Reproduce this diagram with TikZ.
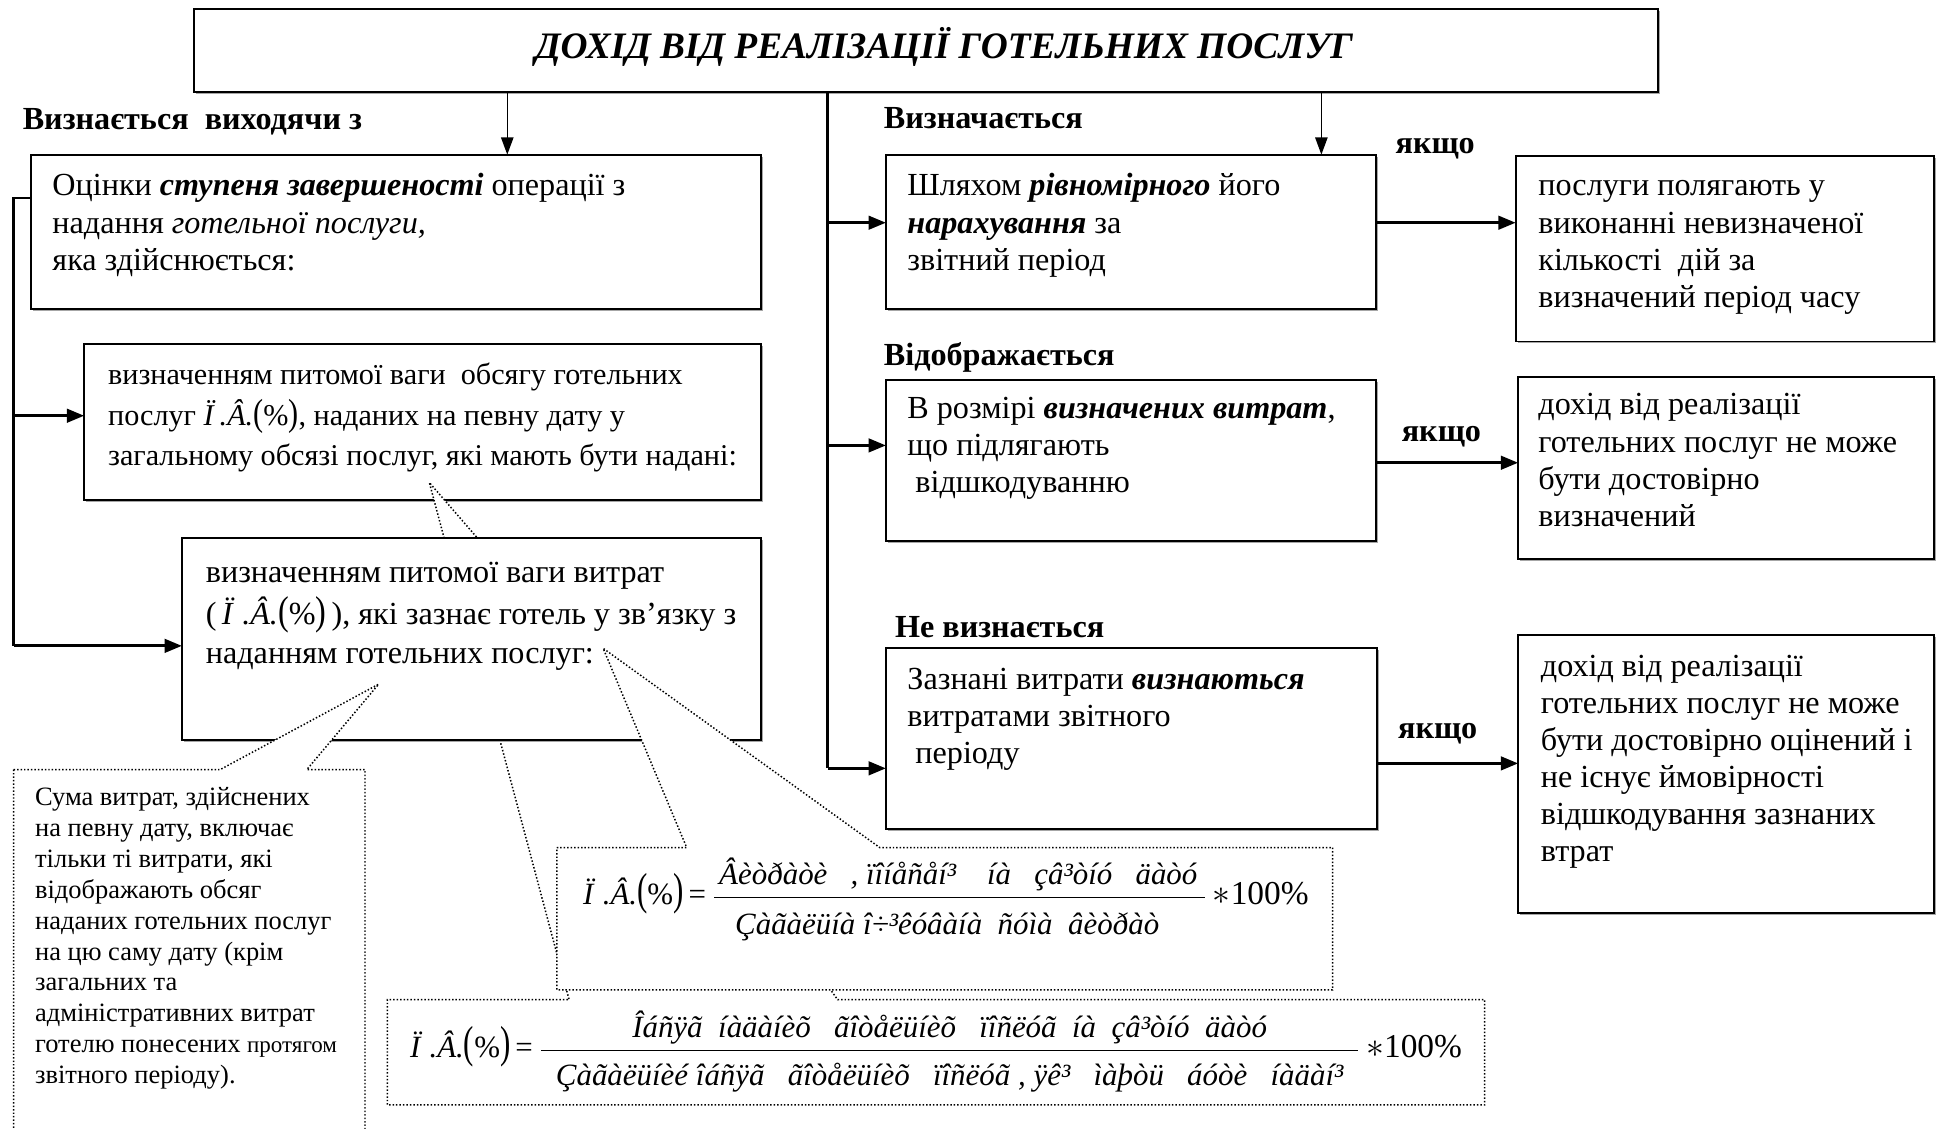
\documentclass[tikz,border=0pt]{standalone}
\usepackage{fontspec}
\setmainfont{Liberation Serif}
\usepackage{graphicx}
\usetikzlibrary{arrows.meta,shadows,calc}

% share symbol used in the boxes and formulas
\newcommand{\pvsym}{{\itshape Ï\hspace{0.3em}.Â.}\scalebox{1}[1.25]{(}\%\scalebox{1}[1.25]{)}}
\newcommand{\pvtight}{{\itshape Ï\hspace{0.2em}.Â.}\scalebox{1}[1.25]{(}\%\scalebox{1}[1.25]{)}}
\newcommand{\pvbig}{{\itshape Ï\hspace{0.3em}.Â.}\scalebox{1}[1.45]{(}\%\scalebox{1}[1.45]{)}}
\newcommand{\pct}{{\fontsize{13.5}{15}\selectfont$\ast$100\%}}
\newcommand{\bi}[1]{\textbf{\textit{#1}}}
% box with top-left corner (#2,#3) and bottom-right corner (#4,#5)
\newcommand{\mkpanel}[5]{\node[panel,minimum width={(#4-#2)*0.5pt},minimum height={(#5-#3)*0.5pt}] (#1) at (#2,#3) {};}

\begin{document}
\begin{tikzpicture}[x=0.5pt,y=-0.5pt,
  panel/.style={draw,line width=0.8pt,fill=white,inner sep=0pt,outer sep=0pt,anchor=north west,
     drop shadow={shadow xshift=0.8pt,shadow yshift=-0.8pt,fill=black!35,opacity=1}},
  txt/.style={inner sep=0pt,anchor=north west,align=left,font=\fontsize{13}{15}\selectfont},
  lbl/.style={inner sep=0pt,anchor=base west,font=\bfseries\fontsize{13}{15}\selectfont},
  cond/.style={inner sep=0pt,anchor=base,font=\bfseries\fontsize{13}{15}\selectfont},
  link/.style={line width=1.1pt,-{Triangle[length=7pt,width=5.5pt]}},
  spine/.style={line width=1.1pt},
  downarr/.style={line width=0.6pt,-{Triangle[length=7pt,width=5pt]}},
  dotline/.style={line width=0.6pt,dash pattern=on 0.6pt off 0.8pt},
  fml/.style={inner sep=0pt,anchor=west,font=\fontsize{12.5}{15}\selectfont},
]
\useasboundingbox (0,0) rectangle (1568,912);
\clip (0,0) rectangle (1568,912);
\fill[white] (0,0) rectangle (1568,912);

% ---------- upper boxes ----------
\mkpanel{T}{157}{7}{1340}{74}
\node[inner sep=0pt,anchor=base,font=\bfseries\itshape\fontsize{15.1}{18}\selectfont] (title) at (763,47)
  {ДОХІД ВІД РЕАЛІЗАЦІЇ ГОТЕЛЬНИХ ПОСЛУГ};

% ---------- connectors ----------
\coordinate (lx) at (11,0);
\coordinate (rx) at (669,0);
\coordinate (dA) at (410,0);
\coordinate (dD) at (1068,0);

\mkpanel{A}{25}{125}{615}{250}
\mkpanel{B}{68}{278}{615}{404}
\mkpanel{D}{716}{125}{1112}{250}
\mkpanel{G1}{1225}{126}{1563}{276}
\mkpanel{E}{716}{307}{1112}{437}
\mkpanel{G2}{1227}{305}{1563}{452}
\mkpanel{F}{716}{524}{1113}{670}
\mkpanel{G3}{1227}{513}{1563}{738}

\coordinate (jA) at ($(A.north west)+(0,35)$);
\coordinate (jB) at ($(B.north west)+(0,58)$);
\coordinate (jD) at ($(D.north west)+(0,55)$);
\coordinate (jE) at ($(E.north west)+(0,53)$);
\coordinate (jF) at ($(F.north west)+(0,97)$);
\coordinate (kD) at ($(D.north east)+(0,55)$);
\coordinate (kE) at ($(E.north east)+(0,67)$);
\coordinate (kF) at ($(F.north east)+(0,93)$);

\draw[downarr] (T.south -| dA) -- (A.north -| dA);
\draw[downarr] (T.south -| dD) -- (D.north -| dD);
\draw[spine] (T.south -| rx) -- (jF -| rx);
\draw[link] (jD -| rx) -- (jD);
\draw[link] (jE -| rx) -- (jE);
\draw[link] (jF -| rx) -- (jF);
\draw[link] (kD) -- (kD -| G1.west);
\draw[link] (kE) -- (kE -| G2.west);
\draw[link] (kF) -- (kF -| G3.west);

% ---------- box texts ----------
\node[txt] (tA) at (42,137) {\strut Оцінки \bi{ступеня завершеності} операції з\\
  надання \textit{готельної послуги,}\\ яка здійснюється:};
\node[txt,font=\fontsize{12.2}{16.5}\selectfont] (tB) at (87,287) {\strut визначенням питомої ваги\ \ обсягу готельних\\
  послуг \pvtight, наданих на певну дату у\\ загальному обсязі послуг, які мають бути надані:};
\node[txt] (tD) at (733,137) {\strut Шляхом \bi{рівномірного} його\\ \bi{нарахування} за\\ звітний період};
\node[txt] (tG1) at (1243,137) {\strut послуги полягають у\\ виконанні невизначеної\\ кількості\ \ дій за\\ визначений період часу};
\node[txt] (tE) at (733,317) {\strut В розмірі \bi{визначених витрат},\\ що підлягають\\ \ відшкодуванню};
\node[txt] (tG2) at (1243,314) {\strut дохід від реалізації\\ готельних послуг не може\\ бути достовірно\\ визначений};
\node[txt] (tF) at (733,536) {\strut Зазнані витрати \bi{визнаються}\\ витратами звітного\\ \ періоду};
\node[txt] (tG3) at (1245,525) {\strut дохід від реалізації\\ готельних послуг не може\\ бути достовірно оцінений і\\ не існує ймовірності\\ відшкодування зазнаних\\ втрат};

% ---------- labels ----------
\node[lbl] (l1) at (18,105) {Визнається\ \ виходячи з};
\node[lbl] (l2) at (714,104) {Визначається};
\node[lbl] (l3) at (714,295) {Відображається};
\node[lbl] (l4) at (723,515) {Не визнається};
\node[cond] (c1) at (1160,124) {якщо};
\node[cond] (c2) at (1165,357) {якщо};
\node[cond] (c3) at (1162,597) {якщо};

% ---------- left spine ----------
\coordinate (jC) at (147,522);
\draw[spine] (jA) -- (jA -| lx) -- (jC -| lx);
\draw[link] (jB -| lx) -- (jB);
\draw[link] (jC -| lx) -- (jC);

% ---------- pointer from the second box to the third ----------
\coordinate (pB) at (347,390);
\filldraw[dotline,fill=white] (359,435) -- (pB) -- (386,435);

% ---------- lower formula frame (partly hidden) ----------
\draw[dotline] (404,598) -- (460,808) -- (313,808) -- (313,893) -- (1200,893) -- (1200,808) -- (677,808) -- (650,770);

% ---------- third box ----------
\mkpanel{C}{147}{435}{615}{598}
\node[txt,font=\fontsize{13}{15.75}\selectfont] (tC) at (166,448) {\strut визначенням питомої ваги витрат\\
  (\,\pvsym\,), які зазнає готель у зв’язку з\\ наданням готельних послуг:};

% ---------- note with pointer ----------
\coordinate (pN) at (306,553);
\filldraw[dotline,fill=white] (11,622) -- (178,622) -- (pN) -- (248,622) -- (295,622) -- (295,960) -- (11,960) -- cycle;
\node[txt,font=\fontsize{10.7}{12.5}\selectfont] (tN) at (28,633) {\strut Сума витрат, здійснених\\ на певну дату, включає\\
  тільки ті витрати, які\\ відображають обсяг\\ наданих готельних послуг\\ на цю саму дату (крім\\ загальних та\\
  адміністративних витрат\\ готелю понесених {\fontsize{9.3}{12.5}\selectfont протягом}\\ звітного періоду).};

% ---------- upper formula frame with pointer ----------
\coordinate (pF) at (487.5,524);
\filldraw[dotline,fill=white] (450,685) -- (555,685) -- (pF) -- (711,685) -- (1077,685) -- (1077,800) -- (450,800) -- cycle;

\node[fml] (f1) at (471,727) {\pvbig\,=\,$\displaystyle\frac{\mbox{\itshape\hspace{2pt}Âèòðàòè\ \ \ , ïîíåñåí³\ \ \ \ íà\ \ \ çâ³òíó\ \ \ äàòó\hspace{3pt}}}{\mbox{\itshape\rule{0pt}{13.5pt}Çàãàëüíà î÷³êóâàíà\ \ ñóìà\ \ âèòðàò\hspace{10pt}}}$\,\pct};
\node[fml] (f2) at (331,850) {\pvbig\,=\,$\displaystyle\frac{\mbox{\itshape Îáñÿã\ \ íàäàíèõ\ \ \ ãîòåëüíèõ\ \ \ ïîñëóã\ \ íà\ \ çâ³òíó\ \ äàòó}}{\mbox{\itshape\rule{0pt}{13pt}\hspace{6pt}Çàãàëüíèé\ îáñÿã\ \ \ ãîòåëüíèõ\ \ \ ïîñëóã\ , ÿê³\ \ \ ìàþòü\ \ \ áóòè\ \ \ íàäàí³\hspace{6pt}}}$\,\pct};
\end{tikzpicture}
\end{document}
